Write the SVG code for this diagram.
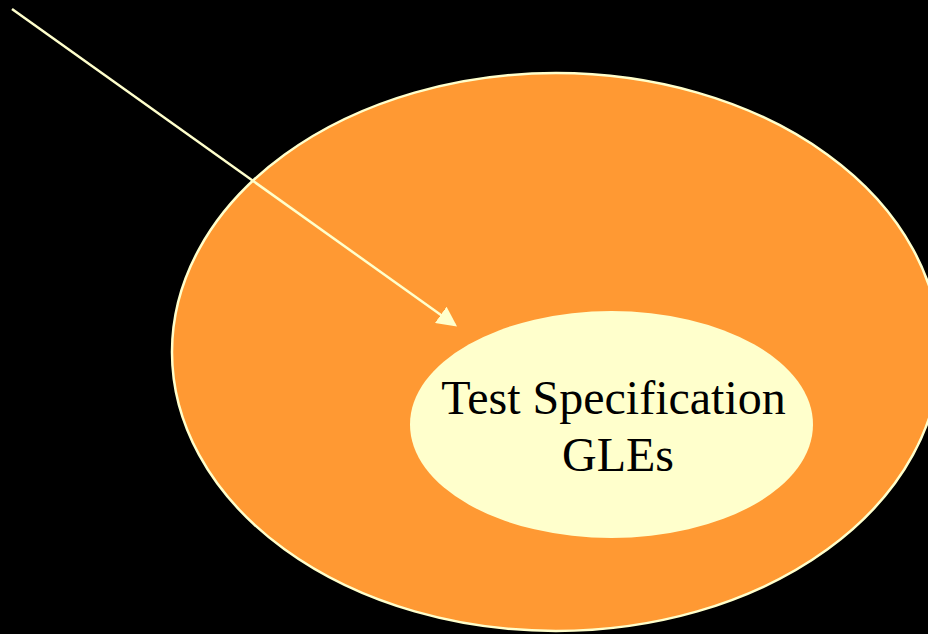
<svg xmlns="http://www.w3.org/2000/svg" width="928" height="634" viewBox="0 0 928 634">
<style>
.outer{fill:#FF9933;stroke:#FFFFCC;stroke-width:2.5}
.inner{fill:#FFFFCC;stroke:none}
.lbl{font-family:"Liberation Serif","Times New Roman",serif;font-size:48px;fill:#000;text-anchor:middle}
.conn{stroke:#FFFFCC;stroke-width:2.5;fill:none}
</style>
<defs>
<marker id="ah" markerWidth="8" markerHeight="8" refX="7" refY="4" orient="auto" markerUnits="strokeWidth">
<path d="M0,0 L8,4 L0,8 Z" fill="#FFFFCC"/>
</marker>
</defs>
<rect width="928" height="634" fill="#000"/>
<g id="outer-node">
<ellipse class="outer" cx="556" cy="352" rx="384" ry="279"/>
</g>
<g id="inner-node">
<ellipse class="inner" cx="611.5" cy="424.5" rx="201.5" ry="113.5"/>
<text class="lbl" x="613.5" y="414">Test Specification</text>
<text class="lbl" x="618" y="471">GLEs</text>
</g>
<g id="connectors">
<line class="conn" x1="12" y1="9" x2="455" y2="325" marker-end="url(#ah)"/>
</g>
</svg>
